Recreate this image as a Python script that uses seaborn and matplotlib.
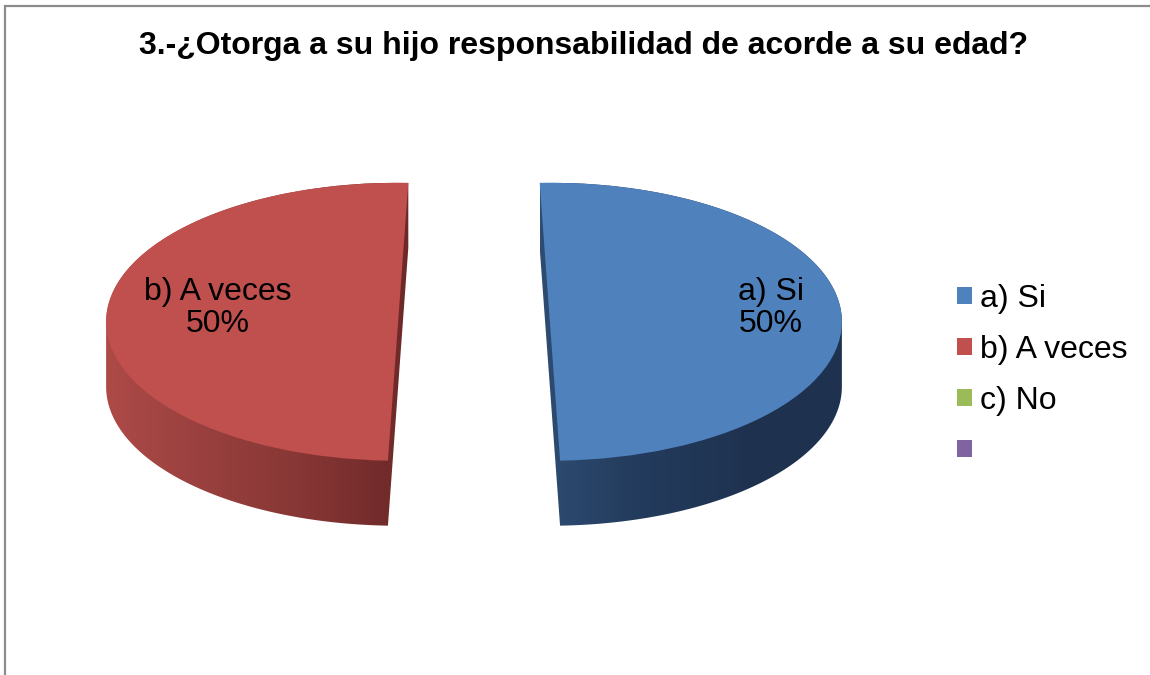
import numpy as np
import matplotlib
matplotlib.use("Agg")
import matplotlib.pyplot as plt
import seaborn as sns
from matplotlib.colors import LinearSegmentedColormap
from matplotlib.patches import Polygon, Rectangle

# ---- data ----
categories = ["a) Si", "b) A veces", "c) No", ""]
values = [50, 50, 0, 0]
top_colors = ["#4F81BD", "#C0504D", "#9BBB59", "#8064A2"]
side_grad = {
    0: ["#2E4C72", "#233B5C", "#1F3351", "#1E3250"],
    1: ["#AD4A48", "#98403E", "#853634", "#6C2928"],
}
title = "3.-¿Otorga a su hijo responsabilidad de acorde a su edad?"

sns.set_theme(style="white")
plt.rcParams["font.family"] = ["Liberation Sans", "DejaVu Sans"]
plt.rcParams["text.color"] = "black"

W, H, DPI = 1150, 675, 100
fig = plt.figure(figsize=(W / DPI, H / DPI), dpi=DPI)
fig.patch.set_facecolor("white")

# outer chart border
fig.add_artist(Rectangle((5 / W, -0.01), 1.2, (H - 6) / H + 0.01, transform=fig.transFigure,
                         facecolor="none", edgecolor="#8C8C8C", linewidth=1.6))

ax = fig.add_axes([0, 0, 1, 1])
cx_px, cy_px = 474, 323
rx_px, ry_px = 292, 139
depth = 65 / ry_px
explode = [0.26, 0.26, 0, 0]
# slightly different start angles per half to mimic perspective of the cut faces
start_angles = {0: 92, 1: 88}

wedges = [None] * len(values)
for keep, sa in start_angles.items():
    ws, _ = ax.pie(values, colors=top_colors, explode=explode, startangle=sa,
                   counterclock=False, wedgeprops=dict(linewidth=0), normalize=True)
    for j, w in enumerate(ws):
        if j == keep or (keep == 0 and j >= 2):
            w.set_zorder(3)
            wedges[j] = w
        else:
            w.remove()


def hull(pts):
    pts = sorted(set(map(tuple, np.round(pts, 6))))
    if len(pts) < 3:
        return np.array(pts)

    def cross(o, a, b):
        return (a[0] - o[0]) * (b[1] - o[1]) - (a[1] - o[1]) * (b[0] - o[0])
    lower, upper = [], []
    for p in pts:
        while len(lower) >= 2 and cross(lower[-2], lower[-1], p) <= 0:
            lower.pop()
        lower.append(p)
    for p in reversed(pts):
        while len(upper) >= 2 and cross(upper[-2], upper[-1], p) <= 0:
            upper.pop()
        upper.append(p)
    return np.array(lower[:-1] + upper[:-1])


# sides: extrusion of each wedge, filled with horizontal gradient
for i, w in enumerate(wedges):
    if values[i] <= 0:
        continue
    th = np.deg2rad(np.linspace(w.theta1, w.theta2, 300))
    c = np.array(w.center)
    pts = np.column_stack([c[0] + w.r * np.cos(th), c[1] + w.r * np.sin(th)])
    pts = np.vstack([pts, c])
    allpts = np.vstack([pts, pts - np.array([0, depth])])
    hp = hull(allpts)
    poly = Polygon(hp, closed=True, facecolor="none", edgecolor="none")
    ax.add_patch(poly)
    cmap = LinearSegmentedColormap.from_list(f"g{i}", side_grad[i])
    x0, x1 = hp[:, 0].min(), hp[:, 0].max()
    y0, y1 = hp[:, 1].min(), hp[:, 1].max()
    im = ax.imshow(np.linspace(0, 1, 256).reshape(1, -1), cmap=cmap, aspect="auto",
                   extent=[x0, x1, y0, y1], zorder=2, interpolation="bilinear")
    im.set_clip_path(poly)

# data labels
label_pos = {0: (771, 308), 1: (218, 308)}
total = sum(values)
for i, (cat, v) in enumerate(zip(categories, values)):
    if v <= 0:
        continue
    px, py = label_pos[i]
    ax.text((px - cx_px) / rx_px, (cy_px - py) / ry_px, f"{cat}\n{v / total * 100:.0f}%",
            ha="center", va="center", multialignment="center", fontsize=23,
            color="black", zorder=5, linespacing=1.1)

ax.set_aspect("auto")
ax.set_xlim(-cx_px / rx_px, (W - cx_px) / rx_px)
ax.set_ylim((cy_px - H) / ry_px, cy_px / ry_px)
ax.axis("off")

# title
fig.text(584 / W, 1 - 46 / H, title, ha="center", va="center", fontsize=23,
         fontweight="bold", color="black")

# legend
leg = fig.legend(wedges, categories, loc="upper left", bbox_to_anchor=(944 / W, 1 - 271 / H),
                 frameon=False, fontsize=23, handlelength=0.47, handleheight=0.47,
                 handletextpad=0.25, labelspacing=0.66, borderaxespad=0, labelcolor="black")

fig.savefig("out.png", dpi=DPI, facecolor="white")
